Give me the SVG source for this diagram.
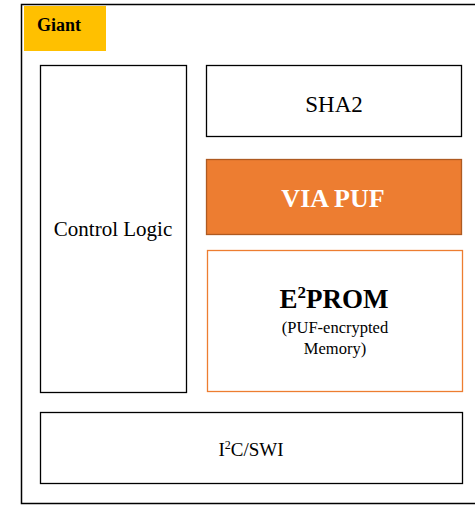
<svg xmlns="http://www.w3.org/2000/svg" width="475" height="505" viewBox="0 0 475 505">
<style>
.blk{fill:#fff;stroke:#000;stroke-width:1.3}
text{font-family:'Liberation Serif','Times New Roman',serif}
.t{fill:#000;text-anchor:middle}
</style>
<rect width="475" height="505" fill="#fff"/>
<g id="frame"><rect x="21.5" y="4.5" width="470" height="499" fill="#fff" stroke="#000" stroke-width="1.5"/></g>
<g id="giant"><rect x="24" y="6" width="82" height="45" fill="#FFC000"/><text x="37" y="31" font-family="Liberation Serif, serif" font-weight="bold" font-size="18">Giant</text></g>
<g id="control"><rect class="blk" x="40.5" y="65.5" width="146" height="327"/><text class="t" x="113" y="236" font-family="Liberation Serif, serif" font-size="21">Control Logic</text></g>
<g id="sha2"><rect class="blk" x="206.5" y="65.5" width="255" height="71"/><text class="t" x="334" y="112" font-family="Liberation Serif, serif" font-size="23">SHA2</text></g>
<g id="viapuf"><rect x="206.5" y="159.5" width="255" height="75" fill="#ED7D31" stroke="#AE5A21" stroke-width="1.3"/><text x="333" y="207" font-family="Liberation Serif, serif" font-size="26" font-weight="bold" fill="#fff" text-anchor="middle">VIA PUF</text></g>
<g id="eeprom"><rect x="207.5" y="250.5" width="255" height="141" fill="#fff" stroke="#ED7D31" stroke-width="1.3"/><text class="t" x="334" y="308" font-family="Liberation Serif, serif" font-size="27" font-weight="bold">E<tspan font-size="17" dy="-10">2</tspan><tspan dy="10">PROM</tspan></text><text class="t" x="335" y="333" font-family="Liberation Serif, serif" font-size="16.5">(PUF-encrypted</text><text class="t" x="335" y="354" font-family="Liberation Serif, serif" font-size="16.5">Memory)</text></g>
<g id="i2c"><rect class="blk" x="40.5" y="412.5" width="422" height="71"/><text class="t" x="251" y="456" font-family="Liberation Serif, serif" font-size="19">I<tspan font-size="12" dy="-7">2</tspan><tspan dy="7">C/SWI</tspan></text></g>
<g id="connectors"></g>
</svg>
